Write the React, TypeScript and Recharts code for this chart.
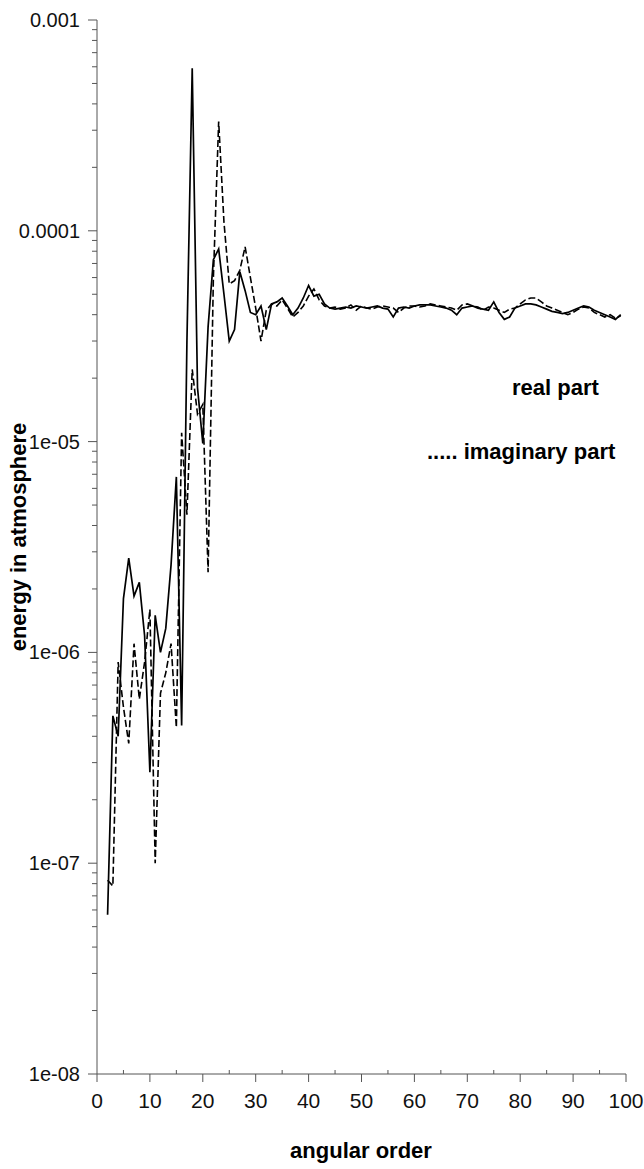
import React from 'react';
import { LineChart, Line, XAxis, YAxis } from 'recharts';

const orders = [
  2, 3, 4, 5, 6, 7, 8, 9, 10, 11, 12, 13, 14, 15, 16, 17, 18, 19, 20,
  21, 22, 23, 24, 25, 26, 27, 28, 29, 30, 31, 32, 33, 34, 35, 36, 37, 38, 39, 40,
  41, 42, 43, 44, 45, 46, 47, 48, 49, 50, 51, 52, 53, 54, 55, 56, 57, 58, 59, 60,
  61, 62, 63, 64, 65, 66, 67, 68, 69, 70, 71, 72, 73, 74, 75, 76, 77, 78, 79, 80,
  81, 82, 83, 84, 85, 86, 87, 88, 89, 90, 91, 92, 93, 94, 95, 96, 97, 98, 99,
];

const realPart = [
  5.7e-8, 5.0e-7, 4.0e-7, 1.8e-6, 2.8e-6, 1.85e-6, 2.15e-6, 1.2e-6, 2.7e-7,
  1.5e-6, 1.0e-6, 1.3e-6, 2.6e-6, 6.8e-6, 4.5e-7, 3.0e-5, 5.9e-4, 1.8e-5, 9.8e-6,
  3.5e-5, 7.3e-5, 8.2e-5, 5.0e-5, 3.0e-5, 3.4e-5, 6.4e-5, 5.2e-5, 4.1e-5, 4.0e-5,
  4.4e-5, 3.4e-5, 4.5e-5, 4.6e-5, 4.8e-5, 4.4e-5, 4.0e-5, 4.3e-5, 4.8e-5, 5.5e-5,
  4.9e-5, 5.0e-5, 4.5e-5, 4.3e-5, 4.25e-5, 4.3e-5, 4.35e-5, 4.3e-5, 4.4e-5, 4.35e-5,
  4.3e-5, 4.35e-5, 4.4e-5, 4.3e-5, 4.25e-5, 3.9e-5, 4.3e-5, 4.35e-5, 4.3e-5, 4.4e-5,
  4.45e-5, 4.45e-5, 4.45e-5, 4.4e-5, 4.35e-5, 4.3e-5, 4.2e-5, 4.0e-5, 4.3e-5, 4.35e-5,
  4.4e-5, 4.3e-5, 4.25e-5, 4.2e-5, 4.6e-5, 4.1e-5, 3.8e-5, 3.9e-5, 4.3e-5, 4.4e-5,
  4.5e-5, 4.5e-5, 4.45e-5, 4.35e-5, 4.25e-5, 4.15e-5, 4.1e-5, 4.05e-5, 4.1e-5, 4.2e-5,
  4.3e-5, 4.4e-5, 4.35e-5, 4.2e-5, 4.1e-5, 4.0e-5, 3.9e-5, 3.8e-5, 4.0e-5,
];

const imaginaryPart = [
  8.3e-8, 7.8e-8, 9.0e-7, 5.5e-7, 3.7e-7, 1.1e-6, 6.0e-7, 9.0e-7, 1.6e-6,
  1.0e-7, 6.4e-7, 8.0e-7, 1.1e-6, 4.4e-7, 1.1e-5, 4.5e-6, 2.2e-5, 1.35e-5, 1.5e-5,
  2.4e-6, 6.0e-5, 3.3e-4, 1.1e-4, 5.6e-5, 5.8e-5, 6.5e-5, 8.4e-5, 6.0e-5, 4.3e-5,
  3.0e-5, 4.2e-5, 4.5e-5, 4.4e-5, 4.7e-5, 4.3e-5, 3.9e-5, 4.1e-5, 4.4e-5, 4.9e-5,
  5.3e-5, 4.7e-5, 4.4e-5, 4.3e-5, 4.35e-5, 4.25e-5, 4.3e-5, 4.45e-5, 4.2e-5, 4.4e-5,
  4.3e-5, 4.25e-5, 4.35e-5, 4.4e-5, 4.35e-5, 4.3e-5, 4.1e-5, 4.3e-5, 4.4e-5, 4.4e-5,
  4.35e-5, 4.4e-5, 4.5e-5, 4.45e-5, 4.4e-5, 4.35e-5, 4.3e-5, 4.2e-5, 4.45e-5, 4.5e-5,
  4.4e-5, 4.35e-5, 4.2e-5, 4.35e-5, 4.3e-5, 4.2e-5, 4.1e-5, 4.25e-5, 4.3e-5, 4.5e-5,
  4.7e-5, 4.8e-5, 4.8e-5, 4.6e-5, 4.4e-5, 4.3e-5, 4.2e-5, 4.1e-5, 4.0e-5, 4.1e-5,
  4.25e-5, 4.35e-5, 4.3e-5, 4.1e-5, 4.0e-5, 3.9e-5, 4.0e-5, 3.85e-5, 3.95e-5,
];

const yMajorTicks = [1e-8, 1e-7, 1e-6, 1e-5, 1e-4, 1e-3];
const yMajorLabels = ['1e-08', '1e-07', '1e-06', '1e-05', '0.0001', '0.001'];
const yMinorMultipliers = [2, 3, 4, 5, 6, 7, 8, 9];
const xMajorTicks = [0, 10, 20, 30, 40, 50, 60, 70, 80, 90, 100];
const xMinorTicks = [5, 15, 25, 35, 45, 55, 65, 75, 85, 95];

const data = orders.map((n, i) => ({
  n,
  real: realPart[i],
  imag: imaginaryPart[i],
}));

const yTicks: number[] = [];
yMajorTicks.forEach((t, i) => {
  yTicks.push(t);
  if (i < yMajorTicks.length - 1) {
    yMinorMultipliers.forEach((m) => yTicks.push(+(t * m).toPrecision(3)));
  }
});
const xTicks = [...xMajorTicks, ...xMinorTicks].sort((a, b) => a - b);

const FONT = '"Liberation Sans", Arial, Helvetica, sans-serif';
const AXIS = '#555';

const YTick = (props: any) => {
  const { x, y, payload } = props;
  const v = payload.value;
  const idx = yMajorTicks.findIndex((t) => Math.abs(t - v) / t < 1e-6);
  if (idx >= 0) {
    return (
      <g>
        <line x1={x - 9} x2={x} y1={y} y2={y} stroke={AXIS} strokeWidth={1} />
        <text x={x - 17} y={y} textAnchor="end" dominantBaseline="central" fontFamily={FONT} fontSize={20} fill="#111">
          {yMajorLabels[idx]}
        </text>
      </g>
    );
  }
  return <line x1={x - 5} x2={x} y1={y} y2={y} stroke={AXIS} strokeWidth={1} />;
};

const XTick = (props: any) => {
  const { x, y, payload } = props;
  const v = payload.value;
  if (xMajorTicks.includes(v)) {
    return (
      <g>
        <line x1={x} x2={x} y1={y} y2={y + 8} stroke={AXIS} strokeWidth={1} />
        <text x={x} y={y + 34} textAnchor="middle" fontFamily={FONT} fontSize={21} fill="#111">
          {String(v)}
        </text>
      </g>
    );
  }
  return <line x1={x} x2={x} y1={y} y2={y - 4} stroke={AXIS} strokeWidth={1} />;
};

const YTitle = () => (
  <text
    x={18}
    y={537}
    transform="rotate(-90 18 537)"
    textAnchor="middle"
    dominantBaseline="central"
    fontFamily={FONT}
    fontSize={22}
    fontWeight="bold"
    fill="#000"
  >
    energy in atmosphere
  </text>
);

const XTitle = () => (
  <text x={361} y={1158} textAnchor="middle" fontFamily={FONT} fontSize={22} fontWeight="bold" fill="#000">
    angular order
  </text>
);

export default function App() {
  return (
    <div style={{ position: 'absolute', left: 0, top: 0, width: 644, height: 1169, background: '#fff' }}>
      <LineChart
        width={644}
        height={1169}
        data={data}
        margin={{ top: 20, right: 18, bottom: 65, left: 17 }}
      >
        <XAxis
          dataKey="n"
          type="number"
          domain={[0, 100]}
          ticks={xTicks}
          interval={0}
          height={30}
          tickSize={0}
          tickMargin={0}
          tickLine={false}
          axisLine={{ stroke: AXIS }}
          tick={<XTick />}
          label={<XTitle />}
        />
        <YAxis
          type="number"
          scale="log"
          domain={[1e-8, 1e-3]}
          allowDataOverflow
          ticks={yTicks}
          interval={0}
          width={80}
          tickSize={0}
          tickMargin={0}
          tickLine={false}
          axisLine={{ stroke: AXIS }}
          tick={<YTick />}
          label={<YTitle />}
        />
        <Line
          type="linear"
          dataKey="real"
          stroke="#000"
          strokeWidth={1.7}
          dot={false}
          isAnimationActive={false}
        />
        <Line
          type="linear"
          dataKey="imag"
          stroke="#000"
          strokeWidth={1.6}
          strokeDasharray="7 3"
          dot={false}
          isAnimationActive={false}
        />
      </LineChart>
      <div
        style={{
          position: 'absolute',
          left: 512,
          top: 375,
          fontFamily: FONT,
          fontSize: 22,
          fontWeight: 'bold',
          lineHeight: '26px',
          whiteSpace: 'nowrap',
        }}
      >
        real part
      </div>
      <div
        style={{
          position: 'absolute',
          left: 427,
          top: 439,
          fontFamily: FONT,
          fontSize: 22,
          fontWeight: 'bold',
          lineHeight: '26px',
          whiteSpace: 'nowrap',
        }}
      >
        ..... imaginary part
      </div>
    </div>
  );
}
